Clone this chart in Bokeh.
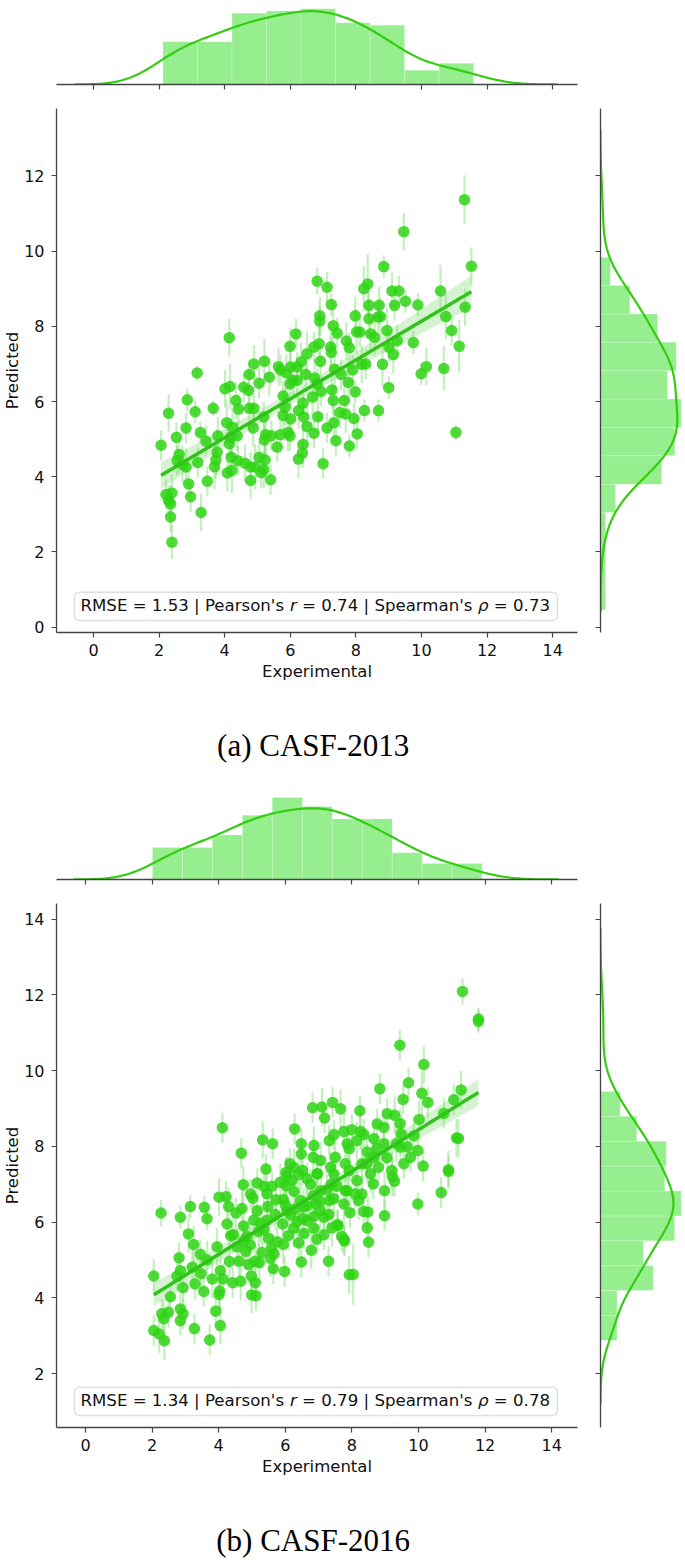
import numpy as np
from bokeh.plotting import figure
from bokeh.layouts import column, row
from bokeh.models import Range1d, FixedTicker, BoxAnnotation, LinearAxis
from bokeh.core.properties import value
from bokeh.embed import file_html
from bokeh.resources import INLINE

# ---------------------------------------------------------------- data
# (experimental, predicted, error)
A_POINTS = [
    (11.31, 11.37, 0.65), (9.46, 10.52, 0.5), (11.52, 9.60, 0.5), (8.85, 9.59, 0.3),
    (6.82, 9.20, 0.35), (7.12, 9.04, 0.4), (7.25, 8.58, 0.3), (8.24, 9.00, 0.6),
    (8.36, 9.13, 0.8), (9.10, 8.94, 0.5), (9.31, 8.94, 0.4), (10.58, 8.94, 0.7),
    (8.40, 8.56, 0.4), (8.71, 8.56, 0.5), (9.18, 8.56, 0.4), (9.51, 8.67, 0.3),
    (9.89, 8.57, 0.3), (11.33, 8.51, 0.5), (10.74, 8.26, 0.6), (10.92, 7.89, 0.4),
    (11.15, 7.47, 0.7), (10.68, 6.88, 0.6), (11.05, 5.18, 0.2), (9.99, 6.74, 0.3),
    (10.15, 6.93, 0.5), (9.75, 7.57, 0.3), (9.00, 6.37, 0.3), (8.81, 6.99, 0.6),
    (9.14, 7.25, 0.5), (9.26, 7.62, 0.4), (8.95, 7.89, 0.6), (9.01, 7.45, 0.4),
    (8.69, 5.76, 0.3), (8.26, 5.76, 0.3), (8.04, 5.14, 0.4), (7.80, 4.82, 0.3),
    (7.39, 4.96, 0.4), (7.00, 4.35, 0.4), (7.98, 8.28, 0.5), (8.02, 7.85, 0.6),
    (8.12, 7.85, 0.4), (8.40, 8.20, 0.5), (8.67, 8.25, 0.4), (8.75, 8.26, 0.5),
    (8.45, 7.80, 0.4), (8.57, 7.71, 0.5), (6.90, 8.28, 0.5), (6.90, 8.14, 0.4),
    (7.31, 8.02, 0.6), (7.43, 7.82, 0.4), (7.71, 7.61, 0.5), (7.80, 7.43, 0.4),
    (7.23, 7.45, 0.6), (7.25, 7.31, 0.4), (6.88, 7.54, 0.5), (6.72, 7.45, 0.4),
    (6.51, 7.27, 0.6), (6.17, 7.80, 0.4), (5.99, 7.47, 0.5), (6.92, 7.07, 0.4),
    (6.33, 7.06, 0.5), (6.21, 6.92, 0.4), (6.01, 6.92, 0.6), (5.64, 6.93, 0.5),
    (5.70, 6.84, 0.4), (5.21, 7.07, 0.6), (4.89, 7.00, 0.5), (4.75, 6.72, 0.4),
    (5.36, 6.65, 0.5), (5.05, 6.49, 0.4), (5.88, 6.76, 0.5), (6.09, 6.56, 0.4),
    (5.99, 6.47, 0.6), (6.21, 6.56, 0.5), (6.47, 6.72, 0.4), (6.74, 6.63, 0.5),
    (6.82, 6.47, 0.4), (7.35, 6.86, 0.6), (7.55, 6.72, 0.4), (7.77, 6.51, 0.5),
    (7.90, 6.84, 0.4), (8.18, 6.99, 0.5), (8.30, 7.00, 0.4), (7.98, 6.26, 0.3),
    (7.65, 6.03, 0.5), (7.31, 6.03, 0.4), (7.27, 6.31, 0.5), (6.94, 6.27, 0.4),
    (6.68, 6.12, 0.5), (6.39, 5.96, 0.4), (6.25, 5.76, 0.5), (5.78, 6.15, 0.4),
    (5.84, 5.85, 0.5), (5.78, 5.63, 0.4), (6.01, 5.54, 0.5), (6.41, 5.59, 0.4),
    (6.51, 5.34, 0.5), (6.72, 5.16, 0.4), (6.84, 5.60, 0.5), (7.12, 5.30, 0.4),
    (7.33, 5.44, 0.5), (7.51, 5.71, 0.4), (7.69, 5.67, 0.5), (7.94, 5.55, 0.4),
    (4.75, 5.82, 0.5), (4.89, 5.82, 0.4), (4.34, 6.03, 0.5), (4.42, 5.80, 0.4),
    (4.16, 6.40, 0.6), (4.01, 6.34, 0.5), (4.58, 6.38, 0.4), (4.73, 6.30, 0.5),
    (4.14, 7.70, 0.5), (3.16, 6.76, 0.2), (2.86, 6.05, 0.3), (3.10, 5.73, 0.3),
    (2.29, 5.69, 0.5), (3.65, 5.82, 0.2), (2.82, 5.30, 0.4), (2.53, 5.05, 0.4),
    (2.06, 4.84, 0.4), (3.26, 5.18, 0.3), (3.43, 4.95, 0.4), (3.79, 5.09, 0.5),
    (4.06, 5.44, 0.6), (4.24, 5.32, 0.5), (4.38, 5.09, 0.4), (4.18, 5.05, 0.5),
    (4.14, 4.88, 0.6), (4.87, 5.30, 0.5), (5.19, 5.59, 0.4), (5.25, 5.12, 0.6),
    (5.42, 5.09, 0.4), (5.21, 4.98, 0.5), (5.70, 5.12, 0.4), (5.93, 5.18, 0.5),
    (5.99, 5.09, 0.4), (5.60, 4.79, 0.4), (6.39, 4.86, 0.5), (6.37, 4.63, 0.4),
    (6.25, 4.47, 0.5), (2.61, 4.59, 0.5), (2.55, 4.43, 0.4), (2.71, 4.33, 0.5),
    (3.18, 4.38, 0.4), (2.82, 4.26, 0.5), (3.77, 4.65, 0.6), (3.73, 4.45, 0.5),
    (3.69, 4.27, 0.6), (4.20, 4.52, 0.5), (4.40, 4.43, 0.4), (4.62, 4.36, 0.5),
    (4.79, 4.26, 0.4), (4.08, 4.10, 0.5), (4.22, 4.17, 0.6), (5.05, 4.52, 0.4),
    (5.23, 4.45, 0.5), (4.93, 4.26, 0.6), (5.19, 4.19, 0.5), (5.11, 4.11, 0.4),
    (4.79, 3.90, 0.5), (5.40, 3.92, 0.4), (3.47, 3.88, 0.4), (2.90, 3.81, 0.4),
    (2.21, 3.53, 0.4), (2.39, 3.57, 0.5), (2.29, 3.37, 0.4), (2.35, 3.28, 0.5),
    (2.96, 3.47, 0.4), (2.35, 2.93, 0.4), (3.28, 3.05, 0.5), (2.39, 2.26, 0.45),
]

B_POINTS = [
    (2.27, 6.24, 0.35), (2.85, 6.13, 0.3), (3.15, 6.41, 0.3), (3.57, 6.39, 0.3),
    (3.65, 6.09, 0.3), (3.09, 5.69, 0.5), (3.25, 5.41, 0.5), (2.81, 5.06, 0.4),
    (2.05, 4.58, 0.45), (2.75, 4.57, 0.4), (2.85, 4.72, 0.4), (2.93, 4.27, 0.4),
    (3.21, 4.81, 0.5), (3.47, 4.64, 0.4), (3.65, 5.00, 0.5), (3.29, 4.37, 0.4),
    (3.55, 4.17, 0.4), (3.81, 4.50, 0.5), (4.05, 4.72, 0.5), (4.13, 4.50, 0.4),
    (4.03, 4.18, 0.5), (4.01, 4.09, 0.4), (4.32, 4.96, 0.5), (4.42, 4.40, 0.4),
    (4.66, 4.44, 0.5), (4.36, 5.64, 0.4), (4.44, 5.67, 0.5), (4.01, 6.66, 0.5),
    (4.22, 6.67, 0.4), (4.30, 6.41, 0.5), (4.52, 6.24, 0.4), (4.70, 6.36, 0.5),
    (4.74, 6.99, 0.5), (5.16, 7.03, 0.4), (5.36, 6.94, 0.5), (4.96, 6.74, 0.4),
    (5.02, 6.63, 0.5), (5.16, 6.30, 0.4), (4.75, 5.90, 0.5), (4.85, 5.62, 0.4),
    (4.81, 5.23, 0.5), (4.61, 4.97, 0.4), (4.90, 4.88, 0.5), (5.10, 4.97, 0.4),
    (5.22, 4.93, 0.5), (4.98, 4.58, 0.4), (5.10, 4.40, 0.5), (4.99, 4.08, 0.5),
    (5.12, 4.06, 0.4), (5.64, 4.77, 0.4), (5.98, 4.70, 0.4), (5.66, 5.16, 0.5),
    (5.76, 5.48, 0.4), (5.50, 5.57, 0.5), (5.58, 5.31, 0.4), (5.94, 5.41, 0.5),
    (5.36, 5.80, 0.4), (5.26, 5.97, 0.5), (5.48, 6.41, 0.4), (5.72, 6.59, 0.5),
    (5.94, 6.60, 0.4), (6.02, 6.96, 0.5), (6.26, 6.81, 0.4), (6.04, 7.22, 0.5),
    (6.16, 6.19, 0.4), (6.36, 6.01, 0.5), (6.52, 6.10, 0.4), (6.26, 5.84, 0.5),
    (6.56, 5.70, 0.4), (6.86, 5.84, 0.5), (6.48, 4.95, 0.4), (6.78, 5.26, 0.5),
    (7.16, 5.67, 0.4), (7.46, 6.62, 0.5), (7.76, 5.55, 0.4), (7.30, 4.97, 0.4),
    (7.16, 6.13, 0.5), (6.06, 6.30, 0.4), (6.46, 6.57, 0.5), (6.66, 6.43, 0.4),
    (6.92, 6.48, 0.5), (7.06, 6.83, 0.4), (7.38, 7.00, 0.5), (6.76, 7.00, 0.4),
    (7.56, 5.93, 0.4), (7.92, 4.61, 0.5), (7.46, 7.27, 0.5), (7.86, 6.83, 0.4),
    (7.76, 6.48, 0.5), (6.96, 7.27, 0.4), (6.66, 6.04, 0.5), (5.92, 5.95, 0.4),
    (2.05, 3.14, 0.4), (2.21, 3.05, 0.5), (2.37, 2.87, 0.5), (2.29, 3.58, 0.4),
    (2.49, 3.62, 0.4), (2.35, 3.45, 0.5), (2.85, 3.71, 0.4), (2.93, 3.58, 0.4),
    (2.85, 3.40, 0.4), (3.27, 3.19, 0.4), (3.73, 2.89, 0.4), (3.91, 3.65, 0.4),
    (4.05, 3.27, 0.5), (2.55, 4.03, 0.4),
    (8.04, 4.62, 0.8), (9.98, 6.48, 0.3), (10.68, 6.78, 0.4), (8.98, 6.17, 0.4),
    (8.46, 5.85, 0.4), (8.50, 5.47, 0.4), (8.48, 6.27, 0.4), (7.58, 5.91, 0.4),
    (7.70, 5.62, 0.4), (7.78, 5.50, 0.4), (8.98, 6.83, 0.5), (7.80, 6.83, 0.5),
    (8.10, 6.74, 0.4), (8.30, 6.74, 0.5), (7.94, 6.25, 0.4), (8.20, 6.57, 0.5),
    (8.36, 6.28, 0.4), (7.33, 6.57, 0.5), (8.64, 7.01, 0.4), (9.22, 7.19, 0.5),
    (9.28, 7.08, 0.4), (10.90, 7.34, 0.4),
    (11.32, 12.09, 0.35), (11.80, 11.36, 0.3), (11.80, 11.30, 0.3), (9.44, 10.67, 0.4),
    (10.16, 10.16, 0.5), (8.84, 9.52, 0.4), (9.70, 9.68, 0.4), (10.10, 9.40, 0.6),
    (10.28, 9.16, 0.4), (9.54, 9.24, 0.4), (11.28, 9.49, 0.5), (11.06, 9.23, 0.4),
    (10.76, 8.87, 0.4), (10.02, 8.71, 0.5), (9.06, 8.86, 0.4), (9.28, 8.82, 0.5),
    (8.76, 8.59, 0.4), (8.96, 8.50, 0.5), (8.24, 8.94, 0.4), (7.66, 8.99, 0.5),
    (7.42, 9.16, 0.4), (11.14, 8.22, 0.5), (11.20, 8.21, 0.5), (9.86, 8.28, 0.5),
    (9.98, 7.89, 0.4), (9.48, 8.33, 0.5), (9.66, 7.99, 0.4), (9.34, 8.07, 0.5),
    (10.14, 7.48, 0.4), (10.90, 7.38, 0.5), (7.46, 8.31, 0.4), (7.76, 8.39, 0.5),
    (8.00, 8.44, 0.4), (8.26, 8.39, 0.5), (8.36, 8.31, 0.4), (7.86, 8.07, 0.5),
    (7.92, 7.94, 0.4), (8.66, 8.20, 0.5), (8.96, 8.07, 0.4), (8.46, 7.85, 0.5),
    (8.66, 7.71, 0.4), (7.50, 7.71, 0.5), (7.80, 7.54, 0.4), (8.30, 7.54, 0.5),
    (8.80, 7.45, 0.4), (9.20, 7.36, 0.5), (9.56, 7.54, 0.4), (9.46, 7.98, 0.5),
    (9.76, 7.71, 0.4), (8.56, 7.28, 0.5),
    (4.11, 8.49, 0.4), (4.68, 7.82, 0.4), (5.32, 8.17, 0.5), (5.62, 8.07, 0.4),
    (5.42, 7.40, 0.4), (6.28, 8.46, 0.4), (6.82, 9.02, 0.4), (7.10, 9.04, 0.5),
    (7.18, 8.75, 0.4), (6.48, 8.07, 0.4), (6.86, 8.02, 0.5), (6.48, 7.80, 0.4),
    (6.84, 7.71, 0.5), (7.32, 8.15, 0.4), (6.14, 7.54, 0.4), (6.26, 7.44, 0.5),
    (6.02, 7.31, 0.4), (7.06, 7.63, 0.5), (7.36, 7.45, 0.4), (6.52, 7.36, 0.4),
    (6.96, 7.28, 0.5), (7.92, 7.36, 0.4),
    # partly hidden points of the dense core
    (5.45, 6.75, 0.5), (5.60, 6.95, 0.4), (5.85, 7.05, 0.5), (6.20, 7.10, 0.4),
    (6.40, 7.25, 0.5), (6.65, 7.15, 0.4), (6.85, 6.70, 0.5), (7.05, 6.55, 0.4),
    (7.25, 6.85, 0.5), (7.55, 6.95, 0.4), (5.05, 6.05, 0.5), (5.20, 5.75, 0.4),
    (5.45, 6.05, 0.5), (5.70, 6.20, 0.4), (6.00, 6.45, 0.5), (6.30, 6.35, 0.4),
    (6.55, 6.40, 0.5), (6.85, 6.15, 0.4), (7.05, 6.30, 0.5), (7.30, 6.20, 0.4),
    (4.55, 5.35, 0.5), (4.75, 5.50, 0.4), (4.95, 5.40, 0.5), (5.30, 5.20, 0.4),
    (5.55, 5.05, 0.5), (6.10, 5.65, 0.4), (6.40, 5.45, 0.5), (6.95, 5.55, 0.4),
    (7.40, 5.85, 0.5), (8.15, 7.10, 0.4), (8.45, 7.55, 0.5), (8.75, 7.95, 0.4),
    (9.05, 7.70, 0.5), (9.45, 8.60, 0.4), (8.15, 8.15, 0.5), (4.25, 5.95, 0.4),
    (3.95, 5.35, 0.5), (3.45, 5.15, 0.4),
]

X_TICKS = [0, 2, 4, 6, 8, 10, 12, 14]
A_Y_TICKS = [0, 2, 4, 6, 8, 10, 12]
B_Y_TICKS = [2, 4, 6, 8, 10, 12, 14]

# marginal histograms (bin edges and counts)
A_TOP_START, A_TOP_WIDTH = 2.12, 1.052
A_TOP_COUNTS = [18, 18, 30, 31, 32, 26, 25, 6, 9]
A_RIGHT_EDGES = [0.46, 3.05, 3.80, 4.56, 5.31, 6.07, 6.82, 7.58, 8.33, 9.09, 9.84]
A_RIGHT_COUNTS = [7, 6, 25, 30, 33, 27, 31, 23, 12, 4]

B_TOP_START, B_TOP_WIDTH = 2.01, 0.90
B_TOP_COUNTS = [18, 18, 25, 36, 46, 41, 34, 34, 15, 9, 9]
B_RIGHT_START, B_RIGHT_WIDTH = 2.88, 0.657
B_RIGHT_COUNTS = [10, 10, 32, 26, 45, 49, 39, 40, 22, 12]

A_STATS = (1.53, 0.74, 0.73)   # RMSE, Pearson r, Spearman rho
B_STATS = (1.34, 0.79, 0.78)
CAPTIONS = ["(a)  CASF-2013", "(b)  CASF-2016"]

# ---------------------------------------------------------------- style
FONT = "DejaVu Sans"
POINT = "#2fd414"
ERR = "#7ddc6f"
LINE = "#30c41a"
KDE = "#33cc11"
BAR = "#97ee8f"
SPINE = "#444444"

DV = {' ': .318, "'": .275, '.': .318, '=': .838, '|': .337, 'A': .684, 'E': .632,
      'M': .863, 'P': .603, 'R': .695, 'S': .635, 'a': .613, 'e': .615, 'm': .974,
      'n': .634, 'o': .612, 'p': .635, 'r': .411, 's': .521, 'ρ': .635}
for d in "0123456789":
    DV[d] = .636


def twidth(s, size):
    return sum(DV.get(c, 0.6) for c in s) * size


def kde(vals, n_grid=200):
    v = np.asarray(vals, dtype=float)
    n = len(v)
    sd = v.std(ddof=1)
    q75, q25 = np.percentile(v, [75, 25])
    a = min(sd, (q75 - q25) / 1.349)
    bw = 1.059 * a * n ** (-0.2)
    g = np.linspace(v.min() - 3 * bw, v.max() + 3 * bw, n_grid)
    d = np.exp(-0.5 * ((g[:, None] - v[None, :]) / bw) ** 2).sum(1) / (n * bw * np.sqrt(2 * np.pi))
    return g, d


def style_axis(ax, ticks, show_labels=True, standoff=6):
    ax.ticker = FixedTicker(ticks=ticks)
    ax.axis_line_color = SPINE
    ax.axis_line_width = 1.3
    ax.major_tick_line_color = SPINE
    ax.major_tick_line_width = 1.2
    ax.major_tick_out = 5
    ax.major_tick_in = 0
    ax.minor_tick_line_color = None
    ax.major_label_text_font = FONT
    ax.major_label_text_color = "#111111"
    if show_labels:
        ax.major_label_text_font_size = "16px"
        ax.major_label_standoff = standoff
    else:
        ax.major_label_text_font_size = "2px"
        ax.major_label_text_color = None
        ax.major_label_standoff = 0


def base_fig(w, h, xr, yr, **kw):
    p = figure(width=w, height=h, x_range=xr, y_range=yr, output_backend="svg",
               toolbar_location=None, **kw)
    p.outline_line_color = None
    p.grid.visible = False
    p.background_fill_color = "white"
    p.border_fill_color = "white"
    return p


LEFT, FRAME_W, RIGHT_GAP = 56, 521, 16
M_LEFT, M_FRAME_W = 7, 85
MAIN_TOP, MAIN_FRAME_H = 8, 524


def panel(points, xr, yr, yticks, top_edges, top_counts, right_edges, right_counts,
          stats, cap, top_h, top_border_top, top_frame_h, top_bar_px, main_h):
    xs = np.array([p[0] for p in points])
    ys = np.array([p[1] for p in points])
    es = np.array([p[2] for p in points])
    bottom = main_h - MAIN_TOP - MAIN_FRAME_H

    # ---- main scatter
    main = base_fig(LEFT + FRAME_W + RIGHT_GAP, main_h, Range1d(*xr), Range1d(*yr),
                    min_border_left=LEFT, min_border_right=RIGHT_GAP,
                    min_border_top=MAIN_TOP, min_border_bottom=bottom)
    style_axis(main.xaxis[0], X_TICKS, standoff=6)
    style_axis(main.yaxis[0], yticks, standoff=7)
    for ax, lab, st in ((main.xaxis[0], "Experimental", 3), (main.yaxis[0], "Predicted", -1)):
        ax.axis_label = lab
        ax.axis_label_text_font = FONT
        ax.axis_label_text_font_size = "16.5px"
        ax.axis_label_text_font_style = "normal"
        ax.axis_label_text_color = "#111111"
        ax.axis_label_standoff = st

    # caption under the panel, centred on the scatter frame
    cap_ax = LinearAxis(ticker=FixedTicker(ticks=[]), axis_line_color=None,
                        major_tick_line_color=None, minor_tick_line_color=None,
                        major_tick_out=0, major_label_standoff=0,
                        major_label_text_font_size="2px", major_label_text_color=None,
                        axis_label=cap, axis_label_text_font="Liberation Serif",
                        axis_label_text_font_size="31px", axis_label_text_font_style="normal",
                        axis_label_text_color="black", axis_label_standoff=44)
    main.add_layout(cap_ax, "below")

    # regression with 95% CI
    slope, icpt = np.polyfit(xs, ys, 1)
    gx = np.linspace(xs.min(), xs.max(), 100)
    n = len(xs)
    resid = ys - (slope * xs + icpt)
    s = np.sqrt((resid ** 2).sum() / (n - 2))
    se = s * np.sqrt(1.0 / n + (gx - xs.mean()) ** 2 / ((xs - xs.mean()) ** 2).sum())
    gy = slope * gx + icpt
    main.varea(x=gx, y1=gy - 1.97 * se, y2=gy + 1.97 * se, fill_color=LINE, fill_alpha=0.2)

    main.segment(x0=xs, y0=ys - es, x1=xs, y1=ys + es, line_color=ERR, line_alpha=0.45,
                 line_width=2.2)
    main.scatter(xs, ys, size=11.5, fill_color=POINT, fill_alpha=0.85, line_color=None)
    main.line(gx, gy, line_color=LINE, line_width=3.5)

    # stats box
    x0, x1 = xr
    y0, y1 = yr
    fx = lambda f: x0 + f * (x1 - x0)
    fy = lambda f: y0 + f * (y1 - y0)
    main.add_layout(BoxAnnotation(left=fx(0.0345), right=fx(0.9616), bottom=fy(0.0229),
                                  top=fy(0.0769), fill_color="white", fill_alpha=0.8,
                                  line_color="#8c9898", line_width=1.5, border_radius=5,
                                  level="underlay"))
    rmse, pr, sr = stats
    segs = [(f"RMSE = {rmse:.2f} | Pearson's ", "normal"), ("r", "italic"),
            (f" = {pr:.2f} | Spearman's ", "normal"), ("ρ", "italic"),
            (f" = {sr:.2f}", "normal")]
    size = 16.6
    pos = 80 - 56  # px from frame left
    per_px = (x1 - x0) / FRAME_W
    ty = fy(0.052)
    for txt, sty in segs:
        lead = len(txt) - len(txt.lstrip(" "))
        xpos = pos + twidth(txt[:lead], size)
        main.text(x=[fx(0) + xpos * per_px], y=[ty], text=[txt.strip()],
                  text_font=value(FONT), text_font_size=f"{size}px", text_font_style=sty,
                  text_baseline="middle", text_align="left", text_color="#111111")
        pos += twidth(txt, size)

    # ---- top marginal
    tcounts = np.array(top_counts, dtype=float)
    t_edges = np.array(top_edges, dtype=float)
    tw = np.diff(t_edges)
    tdens = tcounts / (tcounts.sum() * tw)
    ytop = tdens.max() * top_frame_h / top_bar_px
    top = base_fig(LEFT + FRAME_W + RIGHT_GAP, top_h, main.x_range, Range1d(0, ytop),
                   min_border_left=LEFT, min_border_right=RIGHT_GAP,
                   min_border_top=top_border_top,
                   min_border_bottom=top_h - top_frame_h - top_border_top)
    style_axis(top.xaxis[0], X_TICKS, show_labels=False)
    top.yaxis.visible = False
    top.quad(left=t_edges[:-1], right=t_edges[1:], bottom=0, top=tdens, fill_color=BAR,
             line_color="white", line_alpha=0.35, line_width=0.6)
    g, d = kde(xs)
    top.line(g, d, line_color=KDE, line_width=2.2)

    # ---- right marginal
    rcounts = np.array(right_counts, dtype=float)
    r_edges = np.array(right_edges, dtype=float)
    rw = np.diff(r_edges)
    rdens = rcounts / (rcounts.sum() * rw)
    xend = rdens.max() * M_FRAME_W / 80.7
    right = base_fig(M_LEFT + M_FRAME_W, main_h, Range1d(0, xend), main.y_range,
                     min_border_left=M_LEFT, min_border_right=0, min_border_top=MAIN_TOP,
                     min_border_bottom=bottom)
    style_axis(right.yaxis[0], yticks, show_labels=False)
    right.xaxis.visible = False
    right.quad(left=0, right=rdens, bottom=r_edges[:-1], top=r_edges[1:], fill_color=BAR,
               line_color="white", line_alpha=0.35, line_width=0.6)
    g, d = kde(ys)
    right.line(d, g, line_color=KDE, line_width=2.2)

    return top, row(main, right)


a_top_edges = [A_TOP_START + i * A_TOP_WIDTH for i in range(len(A_TOP_COUNTS) + 1)]
b_top_edges = [B_TOP_START + i * B_TOP_WIDTH for i in range(len(B_TOP_COUNTS) + 1)]
b_right_edges = [B_RIGHT_START + i * B_RIGHT_WIDTH for i in range(len(B_RIGHT_COUNTS) + 1)]

# axis ranges as seen in the picture
A_XR = (-1.128, 14.756)
A_YR = (-0.141, 13.795)
B_XR = (-0.871, 14.775)
B_YR = (0.58, 14.41)

top_a, mid_a = panel(A_POINTS, A_XR, A_YR, A_Y_TICKS, a_top_edges, A_TOP_COUNTS,
                     A_RIGHT_EDGES, A_RIGHT_COUNTS, A_STATS, CAPTIONS[0],
                     100, 8, 76, 76, 690)
top_b, mid_b = panel(B_POINTS, B_XR, B_YR, B_Y_TICKS, b_top_edges, B_TOP_COUNTS,
                     b_right_edges, B_RIGHT_COUNTS, B_STATS, CAPTIONS[1],
                     105, 0, 89, 82, 669)

layout = column(top_a, mid_a, top_b, mid_b)
open("out.html", "w").write(file_html(layout, INLINE))
